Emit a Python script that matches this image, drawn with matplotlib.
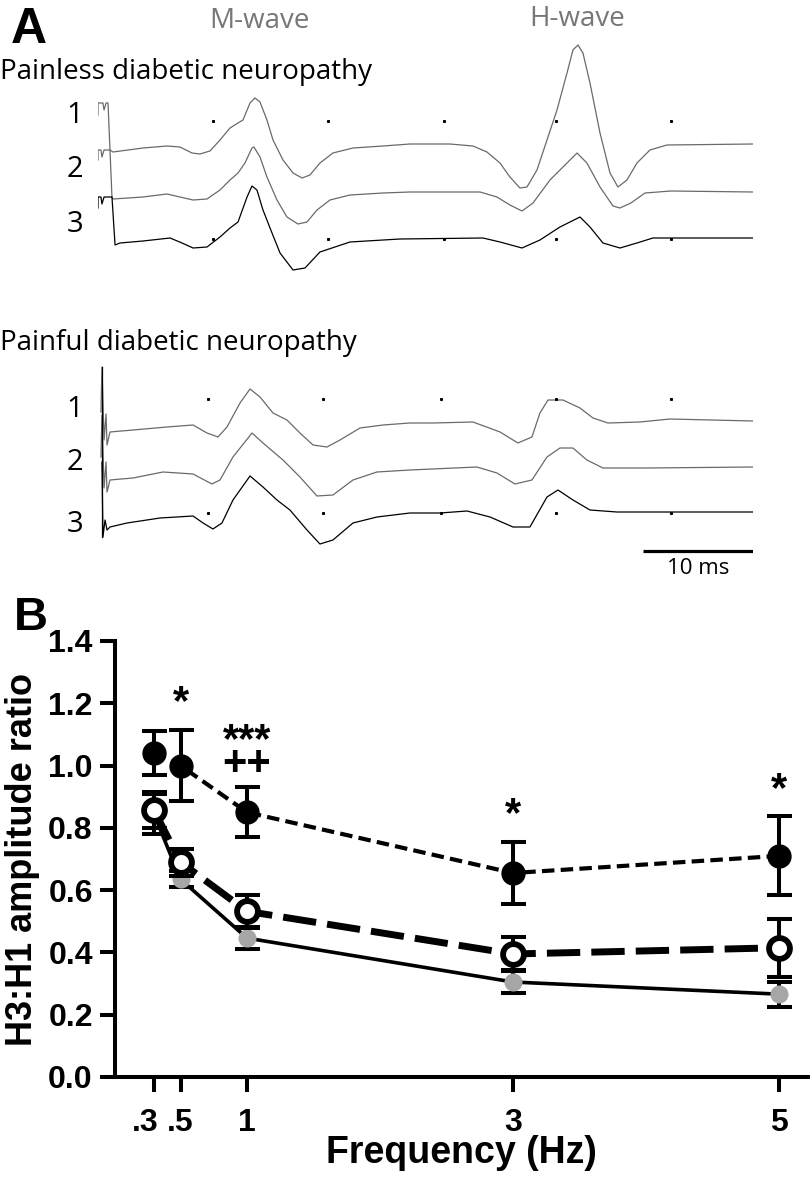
import matplotlib
matplotlib.use("Agg")
import matplotlib.pyplot as plt
import matplotlib.transforms as mtransforms

W, H = 812, 1180

# ---------------- panel A: example recordings (time in ms, amplitude in a.u.) ----------------
painless_t1 = [0.0, 0.0, 0.45, 0.55, 0.73, 0.91, 1.09, 1.36, 4.09, 6.27, 7.45, 8.55, 9.27, 10.18, 11.09, 12.0,
               12.73, 13.18, 13.82, 14.27, 14.73, 15.36, 15.91, 16.82, 17.73, 18.55, 19.27, 20.18, 21.36, 23.18,
               25.91, 28.36, 32.0, 34.09, 35.36, 36.55, 37.45, 38.36, 39.0, 39.91, 40.82, 41.73, 42.64, 43.18,
               43.64, 44.09, 44.73, 45.64, 46.55, 47.27, 48.09, 49.0, 50.18, 51.73, 59.55]
painless_v1 = [2.9, 4.1, 4.1, 3.4, 4.1, 4.1, -0.6, -0.8, -0.4, -0.2, -0.3, -0.9, -1.0, -0.7, 0.4, 1.6,
               2.1, 2.4, 4.1, 4.6, 4.2, 2.4, 0.4, -1.6, -2.9, -3.4, -3.1, -1.9, -0.9, -0.4,
               -0.2, 0.0, 0.0, -0.2, -0.8, -1.9, -3.3, -4.4, -4.3, -2.6, 0.4, 3.4, 7.1, 9.4,
               9.9, 9.1, 6.1, 1.1, -2.9, -4.3, -3.6, -1.9, -0.6, -0.1, 0.0]

painless_t2 = [0.0, 0.0, 0.27, 0.36, 0.55, 1.09, 1.27, 1.36, 4.09, 6.27, 7.45, 8.64, 9.91, 11.09, 12.0, 12.73,
               13.36, 14.0, 14.18, 14.73, 15.36, 16.27, 17.18, 18.18, 19.0, 19.91, 21.09, 22.91, 25.91, 28.36,
               34.73, 36.27, 37.45, 38.55, 39.55, 41.09, 42.64, 43.55, 44.45, 45.64, 46.82, 47.45, 48.45,
               49.73, 52.09, 59.55]
painless_v2 = [3.2, 4.2, 4.2, 3.5, 4.2, 4.2, -0.5, -0.7, -0.5, -0.2, -0.5, -0.8, -0.7, 0.2, 1.2, 1.9,
               2.9, 4.4, 4.5, 3.5, 1.5, -0.8, -2.5, -3.2, -3.0, -1.8, -0.8, -0.3, -0.1, 0.0,
               0.0, -0.5, -1.3, -1.9, -1.1, 1.2, 2.9, 3.9, 2.9, 0.5, -1.4, -1.6, -1.1,
               -0.1, 0.1, 0.0]

painless_t3 = [0.0, 0.0, 0.27, 0.36, 0.55, 1.27, 1.55, 2.0, 4.09, 6.55, 7.64, 8.64, 9.91, 11.09, 12.0, 12.73,
               13.55, 14.0, 14.45, 15.0, 15.82, 16.55, 17.73, 18.82, 20.18, 22.91, 27.45, 35.0, 36.55, 38.55,
               40.18, 42.0, 43.82, 44.73, 45.91, 47.45, 49.0, 50.45, 59.55]
painless_v3 = [3.0, 4.1, 4.1, 3.4, 4.1, 4.1, -0.7, -0.5, -0.3, 0.0, -0.5, -1.0, -0.9, 0.1, 1.0, 1.6,
               4.1, 5.2, 4.8, 2.8, 0.5, -1.5, -3.2, -3.0, -1.4, -0.4, -0.1, 0.0, -0.4, -1.0,
               -0.2, 1.1, 2.1, 1.1, -0.5, -1.0, -0.5, 0.0, 0.0]

painful_t1 = [0.27, 0.36, 0.55, 0.73, 0.82, 1.09, 3.18, 6.27, 8.64, 9.91, 10.91, 11.73, 12.91, 13.82, 14.73,
              15.91, 17.18, 18.36, 19.55, 20.82, 22.0, 23.82, 25.91, 28.36, 30.45, 34.09, 36.55, 38.18,
              39.45, 40.18, 40.91, 42.27, 43.82, 45.0, 46.36, 49.27, 52.0, 59.55]
painful_v1 = [1.0, 5.5, -1.8, 0.8, -2.3, -1.0, -0.8, -0.5, -0.3, -1.1, -1.5, -0.5, 1.9, 3.3, 2.5,
              0.9, 0.2, -1.1, -2.3, -2.5, -1.8, -0.6, -0.3, -0.1, -0.1, 0.0, -1.0, -2.1,
              -1.5, 0.9, 2.2, 2.2, 1.4, 0.4, -0.1, 0.0, 0.3, 0.1]

painful_t2 = [0.27, 0.36, 0.55, 0.73, 0.82, 1.09, 3.18, 5.91, 8.64, 10.36, 11.09, 12.27, 14.0, 15.0, 16.82,
              18.36, 19.91, 21.36, 23.18, 25.36, 28.36, 34.45, 36.27, 37.91, 39.45, 40.82, 42.0, 43.18,
              44.45, 45.91, 49.91, 59.55]
painful_v2 = [1.1, 5.3, -2.0, 0.6, -2.4, -1.2, -1.0, -0.4, -0.6, -1.6, -1.2, 1.1, 3.5, 2.5, 0.8,
              -0.9, -2.8, -2.7, -1.2, -0.4, -0.2, 0.1, -0.5, -1.6, -1.2, 1.1, 2.0, 2.0,
              0.8, 0.0, 0.0, 0.1]

painful_t3 = [0.36, 0.45, 0.64, 0.82, 1.09, 2.64, 5.64, 8.64, 9.55, 10.45, 11.27, 12.27, 13.82, 15.0, 16.27,
              17.45, 19.0, 20.18, 21.36, 23.18, 25.36, 28.36, 31.09, 33.55, 35.64, 37.73, 39.27, 40.82,
              41.82, 43.18, 44.73, 47.18, 59.55]
painful_v3 = [5.0, -2.5, -0.8, -1.8, -1.5, -1.1, -0.6, -0.4, -1.1, -1.7, -1.1, 1.2, 3.6, 2.5, 1.2,
              0.2, -1.8, -3.2, -2.8, -1.1, -0.5, -0.1, -0.1, 0.1, -0.5, -1.5, -1.5, 1.5,
              2.2, 1.2, 0.2, 0.0, 0.0]

painless_dots_t = [10.5, 20.9, 31.5, 41.6, 52.1]
painful_dots_t = [10.0, 20.5, 31.2, 41.6, 52.1]

# ---------------- panel B: H3:H1 ratio vs stimulation frequency ----------------
freq = [0.3, 0.5, 1, 3, 5]
freq_labels = [".3", ".5", "1", "3", "5"]
painful_mean = [1.04, 1.00, 0.85, 0.655, 0.71]
painful_sem = [0.07, 0.115, 0.08, 0.10, 0.127]
painless_mean = [0.857, 0.69, 0.532, 0.395, 0.415]
painless_sem = [0.058, 0.043, 0.052, 0.053, 0.093]
control_mean = [0.845, 0.635, 0.446, 0.305, 0.266]
control_sem = [0.065, 0.025, 0.036, 0.036, 0.04]
sig_marks = ["", "*", "***\n++", "*", "*"]


def fx(x):
    return x / W


def fy(y):
    return 1 - y / H


fig = plt.figure(figsize=(W / 100, H / 100), dpi=100)
afont = "Open Sans"
bfont = "Liberation Sans"
grey_trace = "#6a6a6a"

# panel A, painless
axA1 = fig.add_axes([fx(98), fy(280), 655 / W, 240 / H])
axA1.set_xlim(0, 59.55)
axA1.set_ylim(-13.6, 10.4)
axA1.axis("off")
for t, v, off, c in [(painless_t1, painless_v1, 0, grey_trace),
                     (painless_t2, painless_v2, -4.8, grey_trace),
                     (painless_t3, painless_v3, -9.4, "black")]:
    axA1.plot(t, [a + off for a in v], color=c, lw=0.9)
axA1.plot(painless_dots_t, [2.3] * 5, ls="", marker="s", ms=1.2, color="k")
axA1.plot(painless_dots_t, [-9.5] * 5, ls="", marker="s", ms=1.2, color="k")

# panel A, painful
axA2 = fig.add_axes([fx(98), fy(580), 655 / W, 225 / H])
axA2.set_xlim(0, 59.55)
axA2.set_ylim(-15.8, 6.7)
axA2.axis("off")
for t, v, off, c in [(painful_t1, painful_v1, 0, grey_trace),
                     (painful_t2, painful_v2, -4.6, grey_trace),
                     (painful_t3, painful_v3, -9.0, "black")]:
    axA2.plot(t, [a + off for a in v], color=c, lw=0.9)
axA2.plot([0.36, 0.36], [5.5, -11.5], color="k", lw=0.9)
axA2.plot(painful_dots_t, [2.3] * 5, ls="", marker="s", ms=1.2, color="k")
axA2.plot(painful_dots_t, [-9.1] * 5, ls="", marker="s", ms=1.2, color="k")
axA2.plot([49.55, 59.55], [-12.9, -12.9], color="k", lw=2.3, solid_capstyle="butt")
axA2.text(54.55, -13.6, "10 ms", ha="center", va="top", fontsize=16, family=afont)

fig.text(fx(11), fy(43), "A", fontsize=36, fontweight="bold", family=bfont, va="baseline")
fig.text(fx(0), fy(79), "Painless diabetic neuropathy", fontsize=20, family=afont, va="baseline")
fig.text(fx(0), fy(350), "Painful diabetic neuropathy", fontsize=20, family=afont, va="baseline")
fig.text(fx(259), fy(28), "M-wave", fontsize=20, family=afont, color="#777777", ha="center", va="baseline")
fig.text(fx(577), fy(26), "H-wave", fontsize=20, family=afont, color="#777777", ha="center", va="baseline")
for lab, y in zip(["1", "2", "3"], [123, 177, 232]):
    fig.text(fx(75), fy(y), lab, fontsize=21, family=afont, ha="center", va="baseline")
for lab, y in zip(["1", "2", "3"], [417, 470, 532]):
    fig.text(fx(75), fy(y), lab, fontsize=21, family=afont, ha="center", va="baseline")

# panel B
ax = fig.add_axes([fx(115), fy(1077), 693 / W, 436 / H])
ax.set_xlim(0.0075, 5.218)
ax.set_ylim(0, 1.4)
for s in ["top", "right"]:
    ax.spines[s].set_visible(False)
for s in ["left", "bottom"]:
    ax.spines[s].set_linewidth(2.9)

eb = dict(fmt="none", ecolor="black", elinewidth=2.9, capsize=9, capthick=2.9, clip_on=False)
ax.errorbar(freq, control_mean, yerr=control_sem, zorder=2, **eb)
ax.plot(freq, control_mean, color="black", lw=2.6, zorder=2.5, clip_on=False)
ax.plot(freq, control_mean, ls="", marker="o", ms=13, color="#a6a6a6", mec="none", zorder=3, clip_on=False)

ax.errorbar(freq, painless_mean, yerr=painless_sem, zorder=4, **eb)
ax.plot(freq, painless_mean, color="black", lw=5, ls=(0, (4.8, 1.6)), zorder=4.5, clip_on=False)
ax.plot(freq, painless_mean, ls="", marker="o", ms=15, mfc="white", mec="black", mew=4.2,
        zorder=5, clip_on=False)

ax.errorbar(freq, painful_mean, yerr=painful_sem, zorder=6, **eb)
ax.plot(freq, painful_mean, color="black", lw=3.0, ls=(0, (3.0, 1.5)), zorder=6.5, clip_on=False)
ax.plot(freq, painful_mean, ls="", marker="o", ms=16.5, color="black", zorder=7, clip_on=False)

for x, m, e, mark in zip(freq, painful_mean, painful_sem, sig_marks):
    if mark:
        ax.text(x, m + e + (0.04 if "\n" in mark else 0.05), mark, ha="center", va="baseline",
                multialignment="center", linespacing=0.45, fontsize=30, fontweight="bold", family=bfont)

ax.set_yticks([0.0, 0.2, 0.4, 0.6, 0.8, 1.0, 1.2, 1.4])
ax.set_yticklabels(["0.0", "0.2", "0.4", "0.6", "0.8", "1.0", "1.2", "1.4"])
ax.set_xticks(freq)
ax.set_xticklabels(freq_labels)
ax.tick_params(length=11, width=2.9, pad=5)
ax.tick_params(axis="x", pad=11)
for lab in ax.get_xticklabels() + ax.get_yticklabels():
    lab.set_fontsize(23)
    lab.set_fontweight("bold")
    lab.set_family(bfont)
# the ".3" label sits a little to the left of its tick in the original
lab03 = ax.get_xticklabels()[0]
lab03.set_transform(lab03.get_transform() + mtransforms.ScaledTranslation(-0.09, 0, fig.dpi_scale_trans))
fig.text(fx(461), fy(1163), "Frequency (Hz)", fontsize=27, fontweight="bold", family=bfont,
         ha="center", va="baseline")
ax.set_ylabel("H3:H1 amplitude ratio", fontsize=26, fontweight="bold", family=bfont, labelpad=6)

fig.text(fx(14), fy(630), "B", fontsize=34, fontweight="bold", family=bfont, va="baseline")

fig.savefig("out.png", dpi=100)
